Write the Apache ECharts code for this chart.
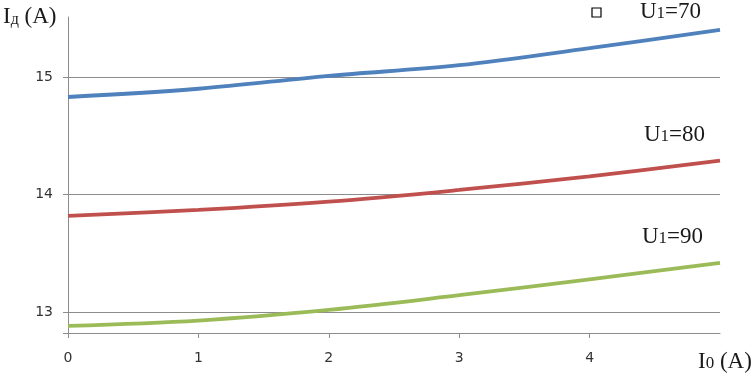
<!DOCTYPE html>
<html>
<head>
<meta charset="utf-8">
<script src="https://cdn.jsdelivr.net/npm/echarts@6/dist/echarts.min.js"></script>
<style>
html,body{margin:0;padding:0;background:#fff;}
#c{width:754px;height:378px;}
</style>
</head>
<body>
<div id="c"></div>
<script>
var xValues = [0, 1, 2, 3, 4, 5];
var seriesU70 = [14.83, 14.90, 15.01, 15.10, 15.245, 15.40];
var seriesU80 = [13.82, 13.87, 13.94, 14.04, 14.155, 14.29];
var seriesU90 = [12.885, 12.93, 13.02, 13.145, 13.28, 13.42];
var yTicks = [13, 14, 15];
var xTickLabels = ['0', '1', '2', '3', '4'];

function pairs(vals) { return xValues.map(function (x, i) { return [x, vals[i]]; }); }

var serif = '"Liberation Serif", "Times New Roman", serif';
function subText(main, sub, rest) {
  return '{u|' + main + '}{s|' + sub + '}{u|' + rest + '}';
}
var richU = {
  u: { fontFamily: serif, fontSize: 23, fill: '#1a1a1a', verticalAlign: 'bottom', lineHeight: 26 },
  s: { fontFamily: serif, fontSize: 17, fill: '#1a1a1a', verticalAlign: 'bottom', lineHeight: 26, padding: [0, 0, 1, 0] }
};

var chart = echarts.init(document.getElementById('c'), null, { renderer: 'canvas' });
var lineW = 3.8;
chart.setOption({
  animation: false,
  backgroundColor: '#ffffff',
  grid: { left: 68, right: 34, top: 17, bottom: 45, containLabel: false },
  xAxis: {
    type: 'value', min: 0, max: 5, interval: 1,
    axisLine: { show: true, lineStyle: { color: '#8c8c8c', width: 1 } },
    axisTick: { show: true, length: 5, inside: false, lineStyle: { color: '#8c8c8c' } },
    splitLine: { show: false },
    axisLabel: {
      showMaxLabel: false, margin: 18, color: '#333', fontSize: 14,
      fontFamily: '"DejaVu Sans", sans-serif',
      formatter: function (v) { return xTickLabels[v] !== undefined ? xTickLabels[v] : ''; }
    }
  },
  yAxis: {
    type: 'value', min: 12.824, max: 15.51,
    axisLine: { show: true, lineStyle: { color: '#8c8c8c', width: 1 } },
    axisTick: { show: true, length: 5, customValues: [12.824].concat(yTicks), lineStyle: { color: '#8c8c8c' } },
    axisLabel: { customValues: yTicks, margin: 15, color: '#333', fontSize: 14, fontFamily: '"DejaVu Sans", sans-serif' },
    splitLine: { show: false }
  },
  series: [
    {
      name: 'U1=70', type: 'line', data: pairs(seriesU70), smooth: 0.35, symbol: 'none',
      lineStyle: { color: '#4f81bd', width: lineW }, z: 3,
      markLine: {
        silent: true, symbol: 'none', label: { show: false },
        lineStyle: { color: '#8c8c8c', width: 1, type: 'solid' },
        data: yTicks.map(function (v) { return { yAxis: v }; }),
        z: 1
      }
    },
    { name: 'U1=80', type: 'line', data: pairs(seriesU80), smooth: 0.35, symbol: 'none', lineStyle: { color: '#c0504d', width: lineW }, z: 3 },
    { name: 'U1=90', type: 'line', data: pairs(seriesU90), smooth: 0.35, symbol: 'none', lineStyle: { color: '#9bbb59', width: lineW }, z: 3 }
  ],
  graphic: [
    { type: 'text', left: 3, top: 5, style: { text: '{u|I}{s|д}{u| (A)}', rich: {
        u: { fontFamily: serif, fontSize: 23, fill: '#1a1a1a', verticalAlign: 'bottom', lineHeight: 26 },
        s: { fontFamily: serif, fontSize: 16, fill: '#1a1a1a', verticalAlign: 'bottom', lineHeight: 26, padding: [0, 0, 0, 0] } } } },
    { type: 'text', left: 698, top: 350, style: { text: subText('I', '0', ' (A)'), rich: richU } },
    { type: 'rect', shape: { x: 592, y: 8, width: 9, height: 9 }, style: { fill: '#fff', stroke: '#000', lineWidth: 1.2 } },
    { type: 'text', left: 640, top: 0, style: { text: subText('U', '1', '=70'), rich: richU } },
    { type: 'text', left: 644, top: 123, style: { text: subText('U', '1', '=80'), rich: richU } },
    { type: 'text', left: 642, top: 225, style: { text: subText('U', '1', '=90'), rich: richU } }
  ]
});
</script>
</body>
</html>
